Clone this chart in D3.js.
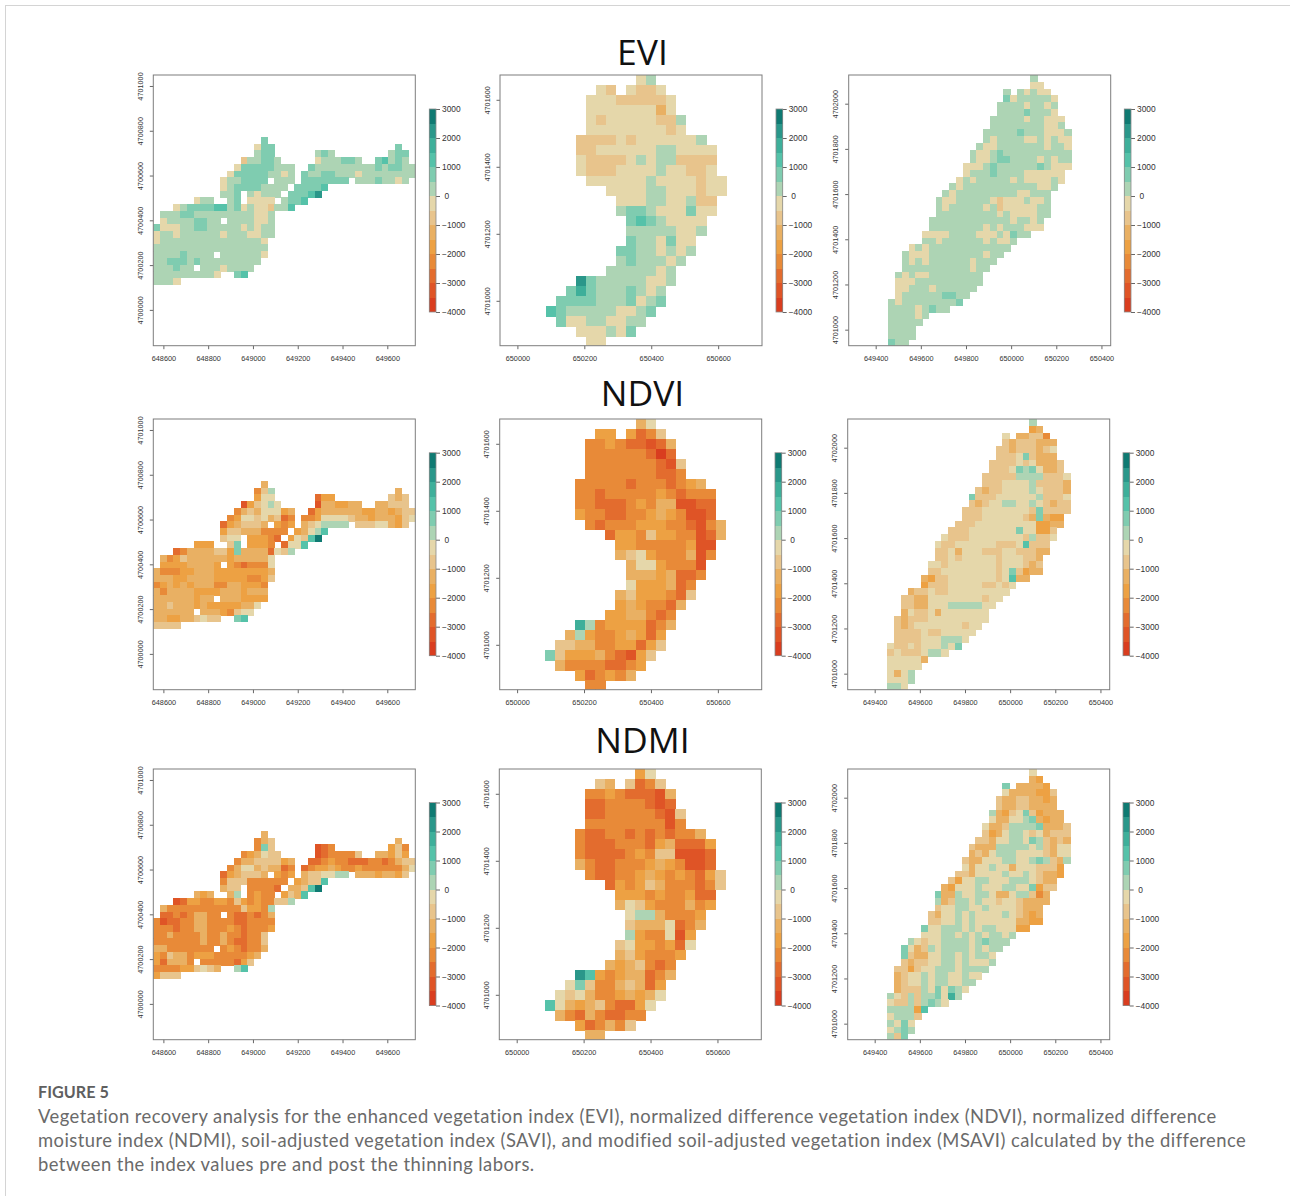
<!DOCTYPE html>
<html>
<head>
<meta charset="utf-8">
<script src="https://cdn.jsdelivr.net/npm/d3@7"></script>
<style>
    html, body { margin: 0; padding: 0; background: #fff; overflow: hidden; }
    .tick text { font-family: "Liberation Sans", sans-serif; fill: #333; }
</style>
</head>
<body>
<svg id="chart" width="1290" height="1196"></svg>
<script>
// class of each 30 m cell: 0-d = bands of the colour bar, "." = no data
// every row is written as "startColumn:classes"
const eviWest = ["16:9","15:799 36:9","15:899 24:898 35:899","13:688998 24:7888998 33:9a898","12:799999888 23:9888888888 33:989988","11:7999998878 22:98899888788888888","10:7889999.888 22:9999999 30:88898878","10:7899998888.9999a","10:889.87888.999ac","6:788 11:89.7777.899a","3:789999aa897877688a","1:88899888888888778","1:788889988.8888778","0:977788998888878788","0:788788888878887788","0:78888888888888887","0:88888888888888888","0:888898888.8888887","0:8899989888888888","0:888988.88878888","0:8888888887 12:9a","0:8887"];
const eviCenter = ["9:78","5:76 8:7667","4:777666667","4:777777757","4:7677777668","4:7777777767","3:6666767777778","3:66777777887777","3:76666787886666","3:76667777877667","4:77777787777677","6:777788777677","7:7778877866","7:8998777977","8:9a987777","8:88888778","8:9887977","7:99887878","7:8988878","6:8888878","3:c988888778","2:9b98889878","1:99998889789","0:a9888887789","1:977887788","3:777879","4:77"];
const eviEast = ["21:8","21:77","17:8 19:87877","17:97888887","16:888878878","16:888898887","15:88888788777","15:88888888778","14:8888898887778","14:8788887787877","13:87788888887887","12:877898888888888","12:877899888878788","11:7778988888898777","11:788898888777777","10:7878888878777787","9:8788888888888778","8:8788888888877888","7:87788888767778778","7:87888887867777788","7:88888888878777788","6:88888888888878878","6:88888888787888777","5:7777888877787988","5:88788888878778","3:787888888888888","2:877788888888788","2:87878888887888","2:8888888888788","1:8787788888888","1:7778888888888","1:778887888888","1:78888889988","0:87888888889","0:888878988","0:888878","0:88888","0:8888","0:8888","0:988"];

const ndviWest = ["16:5","15:368 36:5","15:477 24:244 35:656","13:146787 24:1554455 33:55666","12:356577745 23:2455555544554566","11:3477675623 22:33477776554555467","10:2456665.434 22:5678888 30:66677546","10:4665553333.4578a","10:677.44432.476ad","6:444 11:69.4443.277a","3:235555664955552768","1:53465555554555557","1:444455554.4323337","0:533344555444444445","0:555445555444443346","0:34545455533554443","0:53555544445554555","0:555555455.5554444","0:5565554544444557","0:555555.55543677","0:5544556766 12:9a","0:6666"];
const ndviCenter = ["9:57","5:44 8:4236","4:334322125","4:333333202","4:3333333216","4:3333333223","3:3333323332345","3:33233333432333","3:33222343551122","3:43322334543112","4:32333444332135","6:244364433125","7:4433333411","7:5674333513","8:57743331","8:55545223","8:7444523","7:56444326","7:4543325","6:4455323","3:b834444235","2:5843345424","1:66553344246","0:96444532146","1:533332234","3:423435","4:33"];
const ndviEast = ["21:8","21:45","17:7 19:55663","17:65666555","16:665666567","16:666796555","15:66667675556","15:66679897556","14:6666688886667","14:6667777866665","13:65667777876665","12:966677777786667","12:656778877876566","11:6667777777696666","11:666777777659544","10:6667777777774455","9:6667777777977446","8:76667777777768667","7:7667777776667a666","7:66757776667766655","7:6676777776777665","6:77677777776777656","6:66777777776796455","5:5466777777767a55","5:46667777766767","3:566766777777777","2:665577777777677","2:66557778888877","2:5766757777777","1:65666777777777","1:6567777777677","1:666676677777","1:66667778887","0:76676777879","0:676667887","0:777775","0:77777","0:7578","0:7778","0:887"];

const ndmiWest = ["16:5","15:356 36:5","15:396 24:123 35:463","13:345766 24:1233336 33:55464","12:355666645 23:2234332223323566","11:3577565523 22:23445433433333357","10:2456665.434 22:5667788 30:55545546","10:3666333333.4566a","10:566.33332.556ad","6:545 11:58.3433.465a","3:124433443643433668","1:53333333333364438","1:223235533.3223235","0:312233553333223333","0:333233553334323334","0:33533335335332336","0:33333335335322336","0:553333333.3432335","0:4365534443333345","0:425553.33333246","0:3333446765 12:8a","0:4666"];
const ndmiCenter = ["9:47","5:65 8:6236","4:334322215","4:223333212","4:2233333216","4:3333333313","3:3223323232335","3:32223332452224","3:32222343661112","3:53223334543112","4:32233454343246","6:243465333236","7:4443433422","7:5764333534","8:78853334","8:65557235","8:8433714","7:67443427","7:5643334","6:5456323","3:ca43455235","2:7963356524","1:76753345457","0:a7545632247","1:532532233","3:423536","4:55"];
const ndmiEast = ["21:7","21:54","17:9 19:55554","17:75555446","16:655665545","16:655665555","15:85467964555","15:75577895455","14:7556888895556","14:6457887675666","13:66577887986565","12:655588888786577","12:565788877776577","11:6557778877898658","11:757787757776664","10:6657777877876554","9:6477887778887655","8:54777877788779466","7:95587788755788635","7:85688787767765555","7:6778877877776555","6:65778787777876545","6:66778787777775544","5:9778887878877744","5:77788787878878","3:876778888789888","2:975687888878788","2:96557788787887","2:65667788787778","1:66467788878888","1:5677878877877","1:567787887788","1:56668797987","0:876868897b8","0:766868987","0:88884a","0:78886","0:8797","0:7898","0:869"];

const titles = ["EVI", "NDVI", "NDMI"];
const rasters = [
    [eviWest, eviCenter, eviEast],
    [ndviWest, ndviCenter, ndviEast],
    [ndmiWest, ndmiCenter, ndmiEast]
];

// map extents and tick labels of the three areas, in metres
const eastingExtents = [[648555, 649725], [649948, 650731], [649280.5, 650441]];
const northingExtents = [[4699840, 4701049], [4700866, 4701674], [4700929, 4702127]];
const eastingTicks = [
    [648600, 648800, 649000, 649200, 649400, 649600],
    [650000, 650200, 650400, 650600],
    [649400, 649600, 649800, 650000, 650200, 650400]
];
const northingTicks = [
    [4700000, 4700200, 4700400, 4700600, 4700800, 4701000],
    [4701000, 4701200, 4701400, 4701600],
    [4701000, 4701200, 4701400, 4701600, 4701800, 4702000]
];
const rasterOrigins = [[648555, 4700772], [650084, 4701674], [649455.7, 4702127]];
const cellSize = 30;

// colour bar
const legendTicks = [-4000, -3000, -2000, -1000, 0, 1000, 2000, 3000];
const legendBreaks = [-4000, -3500, -3000, -2500, -2000, -1500, -1000, -500, 0, 500, 1000, 1500, 2000, 2500, 3000];
const legendColors = ["#d93d1f", "#df5426", "#e36c2e", "#e88a38", "#eda143", "#e9b063", "#e8c48c", "#e5d7aa", "#add4b4", "#7fccb0", "#55c2a9", "#3eaf9a", "#2a978a", "#0f7a72"];

const captionHead = "FIGURE 5";
const captionLines = [
    "Vegetation recovery analysis for the enhanced vegetation index (EVI), normalized difference vegetation index (NDVI), normalized difference",
    "moisture index (NDMI), soil-adjusted vegetation index (SAVI), and modified soil-adjusted vegetation index (MSAVI) calculated by the difference",
    "between the index values pre and post the thinning labors."
];

// layout
const plotWidth = 262;
const plotHeight = 270.7;
const plotTops = [75, 419, 769];
const plotLefts = [[153.3, 500, 848.7], [153.3, 499.7, 847.7], [153.3, 499.3, 847.7]];
const legendTops = [109, 452.7, 802.5];
const legendLefts = [[429.3, 776, 1124.3], [429.3, 775, 1123], [429.3, 775, 1123]];
const legendWidth = 6.7;
const legendHeight = 203;
const titleBaselines = [65, 406, 753];

const svg = d3.select("#chart");
const classes = "0123456789abcd";

const color = d3.scaleThreshold()
    .domain(legendBreaks.slice(1, -1))
    .range(legendColors);

// page card border
svg.append("rect")
    .attr("x", 5.5).attr("y", 5.5)
    .attr("width", 1400).attr("height", 1400)
    .attr("fill", "none")
    .attr("stroke", "#d4d4d4");

// turn the row strings into cells with map coordinates and a class value
function readCells(rows, origin) {
    const cells = [];
    rows.forEach((row, r) => {
        row.split(" ").forEach(part => {
            const [start, chars] = part.split(":");
            for (let i = 0; i < chars.length; i++) {
                if (chars[i] === ".") continue;
                cells.push({
                    easting: origin[0] + (+start + i) * cellSize,
                    northing: origin[1] - r * cellSize,
                    value: -3750 + 500 * classes.indexOf(chars[i])
                });
            }
        });
    });
    return cells;
}

function drawMap(rowIndex, area) {
    const left = plotLefts[rowIndex][area];
    const top = plotTops[rowIndex];
    const x = d3.scaleLinear().domain(eastingExtents[area]).range([left, left + plotWidth]);
    const y = d3.scaleLinear().domain(northingExtents[area]).range([top + plotHeight, top]);

    const clipId = `clip-${rowIndex}-${area}`;
    svg.append("clipPath").attr("id", clipId)
        .append("rect")
        .attr("x", left).attr("y", top)
        .attr("width", plotWidth).attr("height", plotHeight);

    svg.append("g")
        .attr("clip-path", `url(#${clipId})`)
        .attr("shape-rendering", "crispEdges")
        .selectAll("rect")
        .data(readCells(rasters[rowIndex][area], rasterOrigins[area]))
        .enter()
        .append("rect")
        .attr("x", d => x(d.easting))
        .attr("y", d => y(d.northing))
        .attr("width", d => x(d.easting + cellSize) - x(d.easting) + 0.4)
        .attr("height", d => y(d.northing - cellSize) - y(d.northing) + 0.4)
        .attr("fill", d => color(d.value));

    // axes
    const xAxis = svg.append("g")
        .attr("transform", `translate(0,${top + plotHeight})`)
        .call(d3.axisBottom(x).tickValues(eastingTicks[area]).tickFormat(d3.format("d")).tickSize(3.5).tickPadding(7));
    const yAxis = svg.append("g")
        .attr("transform", `translate(${left},0)`)
        .call(d3.axisLeft(y).tickValues(northingTicks[area]).tickFormat(d3.format("d")).tickSize(3.5).tickPadding(6));
    xAxis.select(".domain").remove();
    yAxis.select(".domain").remove();
    xAxis.selectAll("line").attr("stroke", "#666");
    yAxis.selectAll("line").attr("stroke", "#666");
    xAxis.selectAll("text").style("font-size", "7.3px");
    yAxis.selectAll("text")
        .style("font-size", "7.3px")
        .attr("text-anchor", "middle")
        .attr("dy", 0)
        .attr("x", -10.5)
        .attr("y", 0)
        .attr("transform", "rotate(-90,-10.5,0)");

    svg.append("rect")
        .attr("x", left).attr("y", top)
        .attr("width", plotWidth).attr("height", plotHeight)
        .attr("fill", "none")
        .attr("stroke", "#7d7d7d")
        .attr("stroke-width", 1);
}

function drawLegend(rowIndex, area) {
    const left = legendLefts[rowIndex][area];
    const top = legendTops[rowIndex];
    const y = d3.scaleLinear().domain([-4000, 3000]).range([top + legendHeight, top]);

    svg.append("g")
        .attr("shape-rendering", "crispEdges")
        .selectAll("rect")
        .data(legendColors)
        .enter()
        .append("rect")
        .attr("x", left)
        .attr("y", (d, i) => y(legendBreaks[i + 1]))
        .attr("width", legendWidth)
        .attr("height", (d, i) => y(legendBreaks[i]) - y(legendBreaks[i + 1]) + 0.4)
        .attr("fill", d => d);

    const axis = svg.append("g")
        .attr("transform", `translate(${left + legendWidth},0)`)
        .call(d3.axisRight(y).tickValues(legendTicks).tickFormat(d => String(d).replace("-", "\u2212")).tickSize(4).tickPadding(2));
    axis.select(".domain").remove();
    axis.selectAll("line").attr("stroke", "#666");
    axis.selectAll("text")
        .style("font-size", "8.4px")
        .attr("dx", d => d === 0 ? 2.5 : 0);

    svg.append("rect")
        .attr("x", left).attr("y", top)
        .attr("width", legendWidth).attr("height", legendHeight)
        .attr("fill", "none")
        .attr("stroke", "#8a8a8a")
        .attr("stroke-width", 0.8);
}

titles.forEach((title, rowIndex) => {
    svg.append("text")
        .attr("x", 642.5)
        .attr("y", titleBaselines[rowIndex])
        .attr("text-anchor", "middle")
        .attr("font-family", "'Open Sans', sans-serif")
        .attr("font-size", 35.5)
        .attr("fill", "#111")
        .text(title);

    [0, 1, 2].forEach(area => {
        drawMap(rowIndex, area);
        drawLegend(rowIndex, area);
    });
});

// caption
svg.append("text")
    .attr("x", 38).attr("y", 1098)
    .attr("font-family", "Lato, sans-serif")
    .attr("font-weight", 700)
    .attr("font-size", 16.2)
    .attr("fill", "#5f5f5f")
    .text(captionHead);

svg.selectAll(".caption")
    .data(captionLines)
    .enter()
    .append("text")
    .attr("class", "caption")
    .attr("x", 38)
    .attr("y", (d, i) => 1123 + i * 24)
    .attr("font-family", "Lato, sans-serif")
    .attr("font-size", 18.4)
    .attr("letter-spacing", 0.45)
    .attr("fill", "#6a6a6a")
    .text(d => d);
</script>
</body>
</html>
